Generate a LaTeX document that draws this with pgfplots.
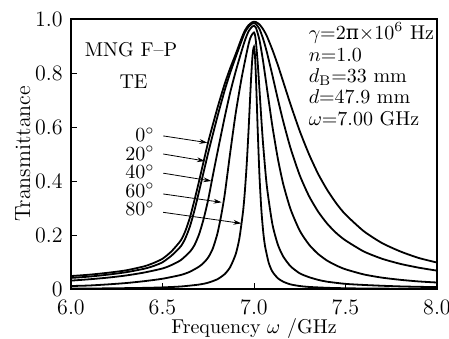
\documentclass[border=0pt]{standalone}
\usepackage{pgfplots}
\pgfplotsset{compat=1.18}
\usepackage{fontspec}
\newfontfamily\dvs{DejaVu Serif}
\usetikzlibrary{arrows.meta}

\pgfplotstableread{
f T
6.00 0.048
6.10 0.053
6.20 0.060
6.30 0.069
6.40 0.084
6.45 0.096
6.50 0.112
6.55 0.140
6.60 0.180
6.625 0.215
6.65 0.265
6.675 0.330
6.70 0.400
6.75 0.545
6.80 0.670
6.84 0.760
6.87 0.818
6.90 0.870
6.93 0.925
6.95 0.957
6.97 0.977
6.99 0.988
7.00 0.990
7.01 0.989
7.03 0.980
7.05 0.962
7.07 0.937
7.10 0.887
7.13 0.830
7.16 0.767
7.20 0.683
7.25 0.585
7.30 0.500
7.35 0.427
7.40 0.367
7.45 0.317
7.50 0.276
7.60 0.214
7.70 0.170
7.80 0.139
7.90 0.115
8.00 0.098
}\curveA

\pgfplotstableread{
f T
6.00 0.041
6.10 0.046
6.20 0.053
6.30 0.062
6.40 0.075
6.45 0.085
6.50 0.099
6.55 0.124
6.60 0.158
6.625 0.188
6.65 0.232
6.675 0.292
6.70 0.362
6.75 0.505
6.80 0.638
6.84 0.736
6.87 0.801
6.90 0.859
6.93 0.915
6.95 0.950
6.97 0.971
6.99 0.983
7.00 0.985
7.01 0.982
7.03 0.963
7.05 0.926
7.07 0.878
7.10 0.793
7.13 0.704
7.16 0.620
7.20 0.521
7.25 0.421
7.30 0.345
7.35 0.287
7.40 0.242
7.45 0.207
7.50 0.180
7.60 0.139
7.70 0.112
7.80 0.093
7.90 0.079
8.00 0.068
}\curveB

\pgfplotstableread{
f T
6.00 0.031
6.10 0.036
6.20 0.042
6.30 0.050
6.40 0.061
6.50 0.076
6.55 0.089
6.60 0.107
6.65 0.138
6.675 0.163
6.70 0.203
6.725 0.260
6.75 0.332
6.775 0.420
6.80 0.505
6.84 0.637
6.87 0.728
6.90 0.806
6.93 0.876
6.95 0.920
6.97 0.954
6.99 0.972
7.00 0.975
7.01 0.969
7.03 0.922
7.05 0.842
7.07 0.747
7.10 0.605
7.13 0.484
7.16 0.388
7.20 0.295
7.25 0.216
7.30 0.165
7.35 0.130
7.40 0.105
7.45 0.087
7.50 0.073
7.60 0.054
7.70 0.042
7.80 0.034
7.90 0.028
8.00 0.024
}\curveC

\pgfplotstableread{
f T
6.00 0.011
6.10 0.013
6.20 0.017
6.30 0.022
6.40 0.029
6.50 0.038
6.60 0.052
6.65 0.064
6.70 0.083
6.725 0.097
6.75 0.117
6.775 0.150
6.80 0.205
6.82 0.270
6.84 0.350
6.87 0.505
6.90 0.651
6.93 0.773
6.95 0.842
6.96 0.875
6.97 0.906
6.98 0.930
6.99 0.943
7.00 0.950
7.005 0.942
7.01 0.920
7.02 0.840
7.03 0.737
7.04 0.631
7.05 0.534
7.07 0.382
7.10 0.242
7.13 0.165
7.16 0.120
7.20 0.084
7.25 0.058
7.30 0.044
7.35 0.034
7.40 0.027
7.50 0.019
7.60 0.015
7.70 0.012
7.80 0.0096
7.90 0.0081
8.00 0.0070
}\curveD

\pgfplotstableread{
f T
6.00 0.0015
6.20 0.0024
6.40 0.0042
6.50 0.0060
6.60 0.0093
6.70 0.0164
6.75 0.0235
6.80 0.0362
6.84 0.0553
6.87 0.0812
6.90 0.129
6.92 0.187
6.94 0.286
6.95 0.361
6.96 0.460
6.97 0.584
6.98 0.725
6.985 0.791
6.99 0.847
6.995 0.884
7.00 0.897
7.005 0.869
7.01 0.795
7.015 0.697
7.02 0.594
7.03 0.418
7.04 0.295
7.05 0.214
7.06 0.160
7.08 0.098
7.10 0.065
7.13 0.040
7.16 0.027
7.20 0.017
7.25 0.011
7.30 0.0077
7.40 0.0044
7.50 0.0028
7.60 0.0019
7.80 0.0011
8.00 0.0007
}\curveE

\begin{document}
\begin{tikzpicture}
\useasboundingbox (0,0) rectangle (224.5pt,169pt);
\begin{axis}[
  at={(35.5pt,24.5pt)}, anchor=south west,
  scale only axis, width=183pt, height=135pt,
  xmin=6, xmax=8, ymin=0, ymax=1,
  xtick={6,6.5,7,7.5,8}, xticklabels={6.0,6.5,7.0,7.5,8.0},
  ytick={0,0.2,0.4,0.6,0.8,1.0}, yticklabels={0,0.2,0.4,0.6,0.8,1.0},
  tick align=inside, tick pos=left, major tick length=3pt,
  axis line style={line width=0.6pt},
  tick style={line width=0.5pt, black},
  ticklabel style={font=\fontsize{11}{13}\selectfont},
  xticklabel style={yshift=-1.8pt},
  yticklabel style={xshift=-0.6pt},
  xlabel={Frequency $\omega$ /GHz},
  ylabel={Transmittance},
  xlabel style={at={(axis description cs:0.5,-0.163)}, anchor=base, inner sep=0pt},
  ylabel style={at={(axis description cs:-0.112,0.5)}, anchor=base, inner sep=0pt, font=\fontsize{11}{13}\selectfont},
  clip=true,
]
\addplot[black, line width=0.9pt, smooth, tension=0.4] table[x=f,y=T] {\curveA};
\addplot[black, line width=0.9pt, smooth, tension=0.4] table[x=f,y=T] {\curveB};
\addplot[black, line width=0.9pt, smooth, tension=0.4] table[x=f,y=T] {\curveC};
\addplot[black, line width=0.9pt, smooth, tension=0.4] table[x=f,y=T] {\curveD};
\addplot[black, line width=0.9pt, smooth, tension=0.4] table[x=f,y=T] {\curveE};

\node at (axis cs:6.328,0.885) {MNG F--P};
\node at (axis cs:6.342,0.769) {TE};

\node[anchor=base west, inner sep=0pt] at (axis cs:7.297,0.925) {$\gamma$=2{\dvs π}$\times$10$^6$ Hz};
\node[anchor=base west, inner sep=0pt] at (axis cs:7.297,0.842) {$n$=1.0};
\node[anchor=base west, inner sep=0pt] at (axis cs:7.297,0.764) {$d_{\mathrm{B}}$=33 mm};
\node[anchor=base west, inner sep=0pt] at (axis cs:7.297,0.688) {$d$=47.9 mm};
\node[anchor=base west, inner sep=0pt] at (axis cs:7.297,0.607) {$\omega$=7.00 GHz};

\node[anchor=east, inner sep=0pt] at (axis cs:6.459,0.570) {0$^\circ$};
\node[anchor=east, inner sep=0pt] at (axis cs:6.459,0.502) {20$^\circ$};
\node[anchor=east, inner sep=0pt] at (axis cs:6.459,0.433) {40$^\circ$};
\node[anchor=east, inner sep=0pt] at (axis cs:6.459,0.365) {60$^\circ$};
\node[anchor=east, inner sep=0pt] at (axis cs:6.459,0.296) {80$^\circ$};

\draw[-{Stealth[length=4pt,width=2.4pt]}, line width=0.4pt] (axis cs:6.504,0.567) -- (axis cs:6.745,0.542);
\draw[-{Stealth[length=4pt,width=2.4pt]}, line width=0.4pt] (axis cs:6.504,0.500) -- (axis cs:6.732,0.474);
\draw[-{Stealth[length=4pt,width=2.4pt]}, line width=0.4pt] (axis cs:6.504,0.429) -- (axis cs:6.767,0.400);
\draw[-{Stealth[length=4pt,width=2.4pt]}, line width=0.4pt] (axis cs:6.504,0.352) -- (axis cs:6.823,0.321);
\draw[-{Stealth[length=4pt,width=2.4pt]}, line width=0.4pt] (axis cs:6.504,0.284) -- (axis cs:6.931,0.243);
\end{axis}
\end{tikzpicture}
\end{document}
